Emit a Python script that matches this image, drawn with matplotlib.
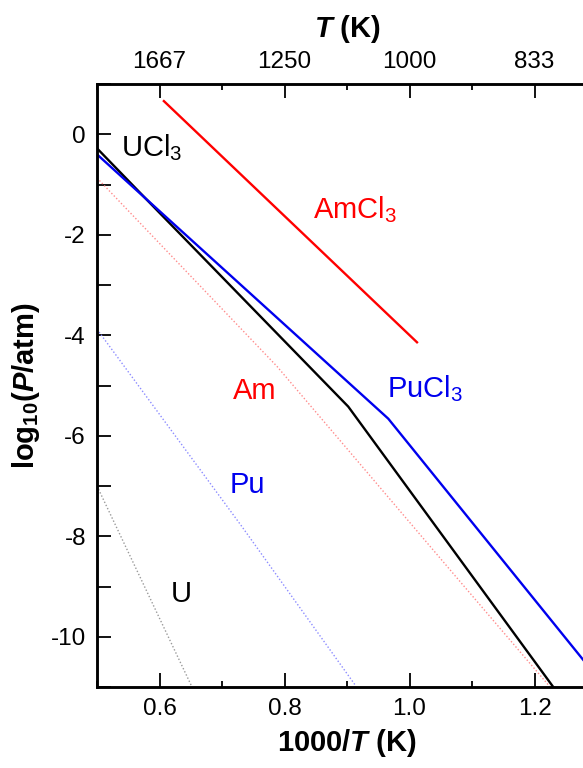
import matplotlib
matplotlib.use('Agg')
import matplotlib.pyplot as plt
from matplotlib.ticker import MultipleLocator

FONT = ['Liberation Sans', 'DejaVu Sans']
plt.rcParams['font.family'] = FONT
plt.rcParams['axes.unicode_minus'] = False
plt.rcParams['mathtext.fontset'] = 'custom'
plt.rcParams['mathtext.default'] = 'regular'
plt.rcParams['mathtext.rm'] = 'Liberation Sans:bold'
plt.rcParams['mathtext.it'] = 'Liberation Sans:italic:bold'
plt.rcParams['mathtext.bf'] = 'Liberation Sans:bold'

# vapour pressure curves, log10(P/atm) vs 1000/T
ucl3_x = [0.5, 0.588, 0.902, 1.23]
ucl3_y = [-0.28, -1.41, -5.42, -11.0]
pucl3_x = [0.5, 0.966, 1.3]
pucl3_y = [-0.40, -5.66, -10.8]
amcl3_x = [0.607, 1.012]
amcl3_y = [0.66, -4.14]

# metals (dotted)
am_x = [0.5, 0.788, 1.065, 1.225]
am_y = [-0.87, -4.62, -8.67, -11.0]
pu_x = [0.5, 0.732, 0.913]
pu_y = [-3.88, -7.81, -10.96]
u_x = [0.5, 0.652]
u_y = [-7.0, -11.0]

top_ticks = [0.6, 0.8, 1.0, 1.2]
top_labels = ['1667', '1250', '1000', '833']

fig = plt.figure(figsize=(5.83, 7.68), dpi=100)
ax = fig.add_axes([97 / 583, 81 / 768, 500 / 583, 603 / 768])

ax.plot(am_x, am_y, ls=(0, (1, 1.5)), lw=1.0, color='#ff8c8c')
ax.plot(pu_x, pu_y, ls=(0, (1, 1.5)), lw=1.0, color='#8c8cff')
ax.plot(u_x, u_y, ls=(0, (1, 1.5)), lw=1.0, color='#9a9a9a')

ax.plot(ucl3_x, ucl3_y, color='black', lw=1.7)
ax.plot(pucl3_x, pucl3_y, color='#0000ee', lw=1.7)
ax.plot(amcl3_x, amcl3_y, color='#ff0000', lw=1.7)

fs = 21
ax.text(0.538, -0.44, 'UCl$_3$', color='black', fontsize=fs, va='baseline')
ax.text(0.846, -1.67, 'AmCl$_3$', color='red', fontsize=fs, va='baseline')
ax.text(0.964, -5.24, 'PuCl$_3$', color='#0000ee', fontsize=fs, va='baseline')
ax.text(0.718, -5.26, 'Am', color='red', fontsize=fs, va='baseline')
ax.text(0.713, -7.13, 'Pu', color='#0000ee', fontsize=fs, va='baseline')
ax.text(0.618, -9.3, 'U', color='black', fontsize=fs, va='baseline')

ax.set_xlim(0.5, 1.3)
ax.set_ylim(-11, 1)
ax.xaxis.set_minor_locator(MultipleLocator(0.1))
ax.set_xticks([0.6, 0.8, 1.0, 1.2])
ax.set_xticklabels(['0.6', '0.8', '1.0', '1.2'])
ax.yaxis.set_minor_locator(MultipleLocator(1))
ax.set_yticks([0, -2, -4, -6, -8, -10])
ax.set_yticklabels(['0', '-2', '-4', '-6', '-8', '-10'])

ax.tick_params(which='major', direction='in', length=10, width=1.3, labelsize=17.5, pad=8)
ax.tick_params(axis='x', which='minor', direction='in', length=4.5, width=1.3)
ax.tick_params(axis='y', which='minor', direction='in', length=10, width=1.3)
for s in ax.spines.values():
    s.set_linewidth(1.8)
ax.spines['right'].set_visible(False)

ax.set_xlabel('1000/$\\it{T}$ (K)', fontsize=21, fontweight='bold', labelpad=5)
ax.set_ylabel('log$_{10}$($\\it{P}$/atm)', fontsize=21, fontweight='bold', labelpad=6)

top = ax.twiny()
top.set_xlim(ax.get_xlim())
top.set_xticks(top_ticks)
top.set_xticklabels(top_labels)
top.xaxis.set_minor_locator(MultipleLocator(0.1))
top.tick_params(which='major', direction='in', length=10, width=1.3, labelsize=17.5, pad=8)
top.tick_params(which='minor', direction='in', length=4.5, width=1.3)
for s in top.spines.values():
    s.set_linewidth(1.8)
top.spines['right'].set_visible(False)
top.set_xlabel('$\\it{T}$ (K)', fontsize=21, fontweight='bold', labelpad=10)

fig.savefig('out.png', dpi=100)
